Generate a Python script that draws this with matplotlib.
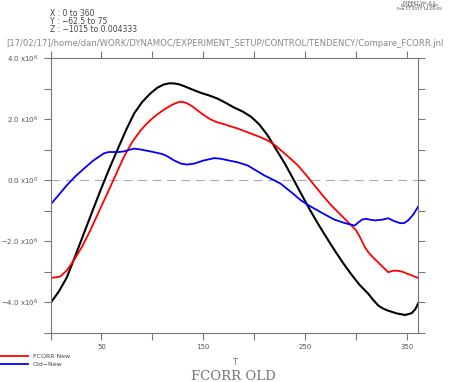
import matplotlib
matplotlib.use("Agg")
import matplotlib.pyplot as plt
from matplotlib.ticker import FixedLocator, MultipleLocator

# data, values in units of 1e6
old_x = [0, 8, 16, 24, 32.6, 41, 49, 57, 65.5, 74, 82, 90, 98, 105, 111, 116, 121, 126, 131,
         139, 147.5, 156, 164, 172, 180, 189, 197, 205, 213, 221, 230, 238, 246, 254, 262.5,
         271, 279, 287, 295, 303, 312, 317, 322, 327, 331.5, 340, 348, 354.5, 358, 361]
old_y = [-4.02, -3.65, -3.18, -2.50, -1.75, -1.02, -0.33, 0.33, 0.99, 1.64, 2.19, 2.57, 2.85,
         3.04, 3.14, 3.18, 3.18, 3.15, 3.09, 2.98, 2.87, 2.78, 2.68, 2.54, 2.39, 2.25, 2.08,
         1.83, 1.48, 1.04, 0.55, 0.06, -0.44, -0.93, -1.42, -1.88, -2.30, -2.70, -3.07,
         -3.41, -3.72, -3.93, -4.11, -4.21, -4.27, -4.36, -4.41, -4.35, -4.22, -4.02]

new_x = [0, 9.6, 16, 22.7, 31, 39, 47, 55.6, 64, 72, 80, 88.5, 95, 101.6, 108, 114.7, 120,
         126, 130, 134.4, 139, 144, 150, 157, 163, 170.5, 177, 183.7, 190, 197, 205, 213,
         220, 226, 234, 242.8, 251, 259, 267, 275.6, 284, 292, 296, 300, 304, 308.5, 313,
         318, 325, 331.5, 336, 341, 346, 351, 356, 361]
new_y = [-3.20, -3.15, -2.95, -2.63, -2.17, -1.64, -1.06, -0.44, 0.18, 0.77, 1.25, 1.64, 1.88,
         2.08, 2.24, 2.39, 2.49, 2.57, 2.57, 2.52, 2.43, 2.30, 2.15, 2.00, 1.91, 1.84, 1.77,
         1.70, 1.62, 1.53, 1.43, 1.31, 1.16, 0.99, 0.76, 0.49, 0.17, -0.16, -0.49, -0.82,
         -1.10, -1.37, -1.50, -1.64, -1.88, -2.19, -2.40, -2.57, -2.80, -3.01, -2.96, -2.96,
         -3.00, -3.07, -3.13, -3.20]

diff_x = [0, 8, 16, 24, 32.6, 42, 52, 57, 62, 67, 72, 77, 82, 87, 92, 98, 105, 110, 114.7,
          121, 128, 134, 141, 150, 160.7, 167, 174, 184, 193.5, 202, 210, 218, 226, 236, 246,
          254, 262.5, 271, 279, 289, 298.6, 302, 306, 310, 314, 318, 325, 331.5, 337, 343,
          347, 351, 356, 361]
diff_y = [-0.79, -0.48, -0.16, 0.12, 0.38, 0.65, 0.88, 0.93, 0.93, 0.93, 0.95, 1.00, 1.04,
          1.02, 0.99, 0.95, 0.90, 0.86, 0.79, 0.66, 0.55, 0.52, 0.55, 0.65, 0.73, 0.71, 0.66,
          0.59, 0.49, 0.32, 0.16, 0.03, -0.11, -0.38, -0.66, -0.83, -0.99, -1.15, -1.29, -1.40,
          -1.48, -1.38, -1.28, -1.26, -1.29, -1.31, -1.29, -1.24, -1.33, -1.40, -1.40, -1.31,
          -1.12, -0.85]

ytick_vals = [-4, -2, 0, 2, 4]
ytick_labels = [r"$-$4.0 x10$^6$", r"$-$2.0 x10$^6$", "0.0 x10$^0$", "2.0 x10$^6$", "4.0 x10$^6$"]
xtick_vals = [50, 150, 250, 350]

grey = "#777777"

fig = plt.figure(figsize=(4.53, 3.82), dpi=100)
ax = fig.add_axes([0.1115, 0.1283, 0.812, 0.719])

ax.axhline(0, color="#aaaaaa", lw=0.8, ls=(0, (8, 5)))
ax.plot(old_x, old_y, color="black", lw=1.5)
ax.plot(new_x, new_y, color="red", lw=1.3)
ax.plot(diff_x, diff_y, color="blue", lw=1.3)

ax.set_xlim(0, 361)
ax.set_ylim(-5, 4)

ax.xaxis.set_major_locator(FixedLocator(xtick_vals))
ax.xaxis.set_minor_locator(MultipleLocator(50))
ax.set_xticklabels([str(v) for v in xtick_vals])
ax.yaxis.set_major_locator(FixedLocator(ytick_vals))
ax.yaxis.set_minor_locator(MultipleLocator(1))
ax.set_yticklabels(ytick_labels)

for s in ax.spines.values():
    s.set_color(grey)
    s.set_linewidth(0.8)
ax.tick_params(which="both", direction="out", length=5, width=0.8, color=grey,
               top=True, right=True, labelsize=5, labelcolor="#555555", pad=3)
ax.tick_params(axis="y", which="major", pad=4)

ax.set_xlabel("T", fontsize=6, color=grey, labelpad=6)

# header texts
fig.text(50 / 453, 1 - 13 / 382, "X : 0 to 360", fontsize=5.5, color="#444444", va="center")
fig.text(50 / 453, 1 - 21 / 382, "Y : \u221262.5 to 75", fontsize=5.5, color="#444444", va="center")
fig.text(50 / 453, 1 - 29 / 382, "Z : \u22121015 to 0.004333", fontsize=5.5, color="#444444", va="center")
fig.text(6 / 453, 1 - 43 / 382,
         "[17/02/17]/home/dan/WORK/DYNAMOC/EXPERIMENT_SETUP/CONTROL/TENDENCY/Compare_FCORR.jnl",
         fontsize=6.1, color="#888888", va="center")
fig.text(419 / 453, 1 - 2.5 / 382, "FERRET Ver. 6.1", fontsize=3, color="#444444",
         ha="center", va="center")
fig.text(419 / 453, 1 - 6 / 382, "NOAA/PMEL TMAP", fontsize=3, color="#444444",
         ha="center", va="center")
fig.text(419 / 453, 1 - 9.5 / 382, "Feb 17 2017 14:05:09", fontsize=3, color="#444444",
         ha="center", va="center")

# legend at bottom left
fig.add_artist(plt.Line2D([0, 28 / 453], [1 - 356 / 382] * 2, color="red", lw=1.3))
fig.text(33 / 453, 1 - 356 / 382, "FCORR New", fontsize=4.5, color="#444444", va="center")
fig.add_artist(plt.Line2D([0, 28 / 453], [1 - 364 / 382] * 2, color="blue", lw=1.3))
fig.text(33 / 453, 1 - 364 / 382, "Old\u2212New", fontsize=4.5, color="#444444", va="center")

fig.text(233 / 453, 1 - 380.5 / 382, "FCORR OLD", fontsize=9.5, color="#777777",
         family="DejaVu Serif", ha="center", va="baseline")

fig.savefig("out.png", dpi=100)
